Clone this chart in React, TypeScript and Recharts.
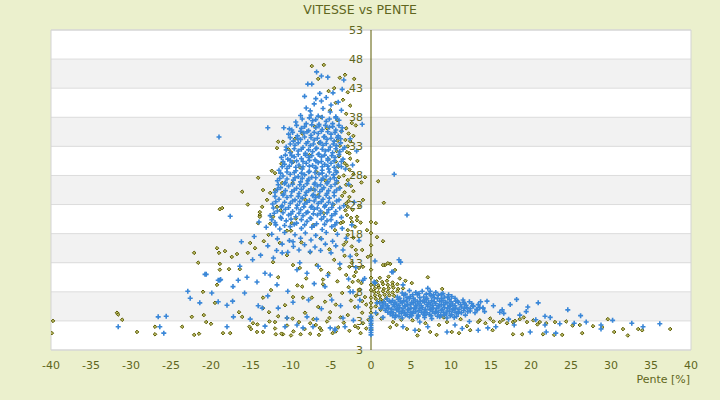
import { ScatterChart, Scatter, XAxis, YAxis, CartesianGrid, ReferenceLine, ReferenceArea } from "recharts";

const X_TICKS = [-40, -35, -30, -25, -20, -15, -10, -5, 0, 5, 10, 15, 20, 25, 30, 35, 40];
const Y_TICKS = [-2, 3, 8, 13, 18, 23, 28, 33, 38, 43, 48, 53];
const Y_TICK_LABELS = ["3", "3", "8", "13", "18", "23", "28", "33", "38", "43", "48", "53"];

type Pt = [number, number];

// blue (+) series
const BLUE_TOP: Pt[] = [
  [-6.8, 45.8], [-6.2, 45.1], [-7.9, 43.7], [-7.4, 43.7], [-5.4, 44.9], [-4.75, 42.2], [-3.4, 44.4], [-8.3, 41.6],
  [-6.4, 42.1], [-5.6, 41.4], [-4.1, 40.6], [-7.1, 40.3], [-8.1, 39.6], [-6, 39.5], [-5.1, 38.9], [-3.7, 39.2],
  [-7.5, 38.4], [-6.6, 38.2], [-4.4, 38.1], [-8.8, 38.3], [-1.1, 36.8], [-12.9, 36.2], [-10.9, 36.2], [-10.2, 36],
  [-19, 34.6], [-3.6, 42.8], [-6.9, 41.2], [-5.0, 40.1], [-7.6, 39.1], [-6.2, 40.8],
];

const BLUE_CORE: Pt[] = [
  [-9.4, 37.2], [-8.1, 36.9], [-7.3, 37.4], [-6.5, 36.8], [-5.6, 37.3], [-4.8, 36.9], [-4.0, 37.5],
  [-9.9, 35.8], [-8.7, 36.1], [-7.8, 35.7], [-6.9, 36.2], [-6.1, 35.9], [-5.2, 36.3], [-4.4, 35.8], [-3.6, 36.2],
  [-10.3, 35.1], [-9.2, 34.8], [-8.4, 35.3], [-7.5, 34.9], [-6.6, 35.2], [-5.8, 34.7], [-5.0, 35.1], [-4.1, 34.8],
  [-9.7, 33.9], [-8.8, 34.2], [-7.9, 33.8], [-7.1, 34.1], [-6.3, 33.7], [-5.5, 34.2], [-4.6, 33.9], [-3.8, 34.3],
  [-10.6, 32.9], [-9.5, 33.2], [-8.5, 32.8], [-7.6, 33.1], [-6.8, 32.7], [-6.0, 33.2], [-5.1, 32.9], [-4.3, 33.1], [-3.3, 32.8],
  [-10.1, 31.9], [-9.1, 32.2], [-8.2, 31.8], [-7.3, 32.1], [-6.5, 31.7], [-5.7, 32.2], [-4.8, 31.9], [-3.9, 32.1],
  [-11.2, 31.1], [-10.4, 30.8], [-9.6, 31.2], [-8.7, 30.9], [-7.8, 31.1], [-7.0, 30.7], [-6.2, 31.2], [-5.4, 30.9], [-4.5, 31.1], [-3.5, 30.8],
  [-10.8, 29.9], [-9.9, 30.2], [-9.0, 29.8], [-8.1, 30.1], [-7.3, 29.7], [-6.6, 30.2], [-5.8, 29.9], [-5.0, 30.1], [-4.1, 29.8],
  [-11.5, 28.9], [-10.5, 29.2], [-9.4, 28.8], [-8.6, 29.1], [-7.7, 28.7], [-6.9, 29.2], [-6.1, 28.9], [-5.3, 29.1], [-4.4, 28.8], [-3.2, 29.1],
  [-11.0, 27.9], [-10.1, 28.2], [-9.1, 27.8], [-8.3, 28.1], [-7.4, 27.7], [-6.5, 28.2], [-5.6, 27.9], [-4.7, 28.1],
  [-11.7, 27.1], [-10.7, 26.8], [-9.7, 27.2], [-8.8, 26.9], [-7.9, 27.1], [-7.0, 26.7], [-6.2, 27.2], [-5.4, 26.9], [-4.3, 27.1],
  [-11.3, 25.9], [-10.3, 26.2], [-9.3, 25.8], [-8.4, 26.1], [-7.5, 25.7], [-6.7, 26.2], [-5.9, 25.9], [-5.0, 26.1], [-3.9, 25.8],
  [-12.0, 25.1], [-10.9, 24.8], [-9.9, 25.2], [-9.0, 24.9], [-8.1, 25.1], [-7.2, 24.7], [-6.4, 25.2], [-5.5, 24.9], [-4.6, 25.1],
  [-11.5, 23.9], [-10.5, 24.2], [-9.5, 23.8], [-8.6, 24.1], [-7.7, 23.7], [-6.9, 24.2], [-6.0, 23.9], [-5.2, 24.1], [-4.0, 23.8],
  [-12.3, 23.1], [-11.1, 22.8], [-10.1, 23.2], [-9.2, 22.9], [-8.3, 23.1], [-7.4, 22.7], [-6.6, 23.2], [-5.7, 22.9], [-4.8, 23.1], [-3.4, 22.8],
  [-11.7, 21.9], [-10.7, 22.2], [-9.8, 21.8], [-8.8, 22.1], [-7.9, 21.7], [-7.1, 22.2], [-6.3, 21.9], [-5.3, 22.1], [-4.4, 21.8],
  [-12.6, 21.1], [-11.3, 20.8], [-10.3, 21.2], [-9.4, 20.9], [-8.5, 21.1], [-7.6, 20.7], [-6.7, 21.2], [-5.9, 20.9], [-4.9, 21.1], [-3.7, 20.8],
  [-12.0, 19.9], [-10.6, 20.2], [-9.3, 19.8], [-8.0, 20.1], [-6.8, 19.7], [-5.5, 20.2], [-4.3, 19.9],
  [-13.1, 19.1], [-11.4, 18.8], [-10.1, 19.2], [-8.7, 18.9], [-7.4, 19.1], [-6.1, 18.7], [-4.9, 19.2], [-3.6, 18.9],
  [-12.4, 17.9], [-10.8, 18.2], [-9.5, 17.8], [-8.2, 18.1], [-6.9, 17.7], [-5.6, 18.2], [-4.2, 17.9],
  [-11.7, 17.1], [-10.2, 16.8], [-8.8, 17.2], [-7.5, 16.9], [-6.2, 17.1], [-4.8, 16.7], [-3.1, 17.2],
  [-12.9, 15.9], [-11.1, 16.2], [-9.7, 15.8], [-8.3, 16.1], [-7.0, 15.7], [-5.7, 16.2], [-4.4, 15.9],
  [-11.8, 15.1], [-10.4, 14.8], [-9.0, 15.2], [-7.6, 14.9], [-6.3, 15.1], [-5.0, 14.7], [-3.5, 15.2],
];

const BLUE_CORE_FILL: Pt[] = [
  [-8.6, 37.7], [-7.7, 37.9], [-6.9, 37.6], [-6.1, 38.0], [-5.2, 37.7], [-4.4, 37.9],
  [-9.3, 36.6], [-8.3, 36.4], [-7.4, 36.7], [-6.5, 36.5], [-5.7, 36.6], [-4.8, 36.4], [-4.0, 36.6],
  [-9.8, 35.4], [-8.8, 35.6], [-8.0, 35.5], [-7.1, 35.4], [-6.2, 35.6], [-5.4, 35.5], [-4.5, 35.4], [-3.7, 35.6],
  [-10.1, 34.5], [-9.2, 34.4], [-8.3, 34.6], [-7.5, 34.5], [-6.7, 34.4], [-5.9, 34.6], [-5.0, 34.4], [-4.2, 34.5],
  [-10.1, 33.4], [-9.1, 33.6], [-8.1, 33.5], [-7.2, 33.4], [-6.4, 33.6], [-5.6, 33.5], [-4.7, 33.4], [-3.8, 33.6],
  [-10.6, 32.4], [-9.6, 32.6], [-8.7, 32.5], [-7.8, 32.4], [-6.9, 32.6], [-6.1, 32.5], [-5.3, 32.4], [-4.4, 32.6], [-3.5, 32.5],
  [-10.7, 31.5], [-9.9, 31.4], [-9.1, 31.6], [-8.2, 31.5], [-7.4, 31.4], [-6.6, 31.6], [-5.8, 31.5], [-4.9, 31.4], [-4.0, 31.6],
  [-11.0, 30.4], [-10.1, 30.6], [-9.3, 30.5], [-8.5, 30.4], [-7.7, 30.6], [-6.9, 30.5], [-6.2, 30.4], [-5.4, 30.6], [-4.6, 30.5], [-3.7, 30.4],
  [-11.1, 29.5], [-10.2, 29.6], [-9.4, 29.4], [-8.5, 29.5], [-7.7, 29.6], [-6.9, 29.4], [-6.1, 29.5], [-5.4, 29.6], [-4.6, 29.4], [-3.7, 29.5],
  [-11.3, 28.4], [-10.5, 28.6], [-9.6, 28.5], [-8.7, 28.4], [-7.8, 28.6], [-7.0, 28.5], [-6.1, 28.4], [-5.2, 28.6], [-4.3, 28.5],
  [-11.4, 27.5], [-10.5, 27.4], [-9.5, 27.6], [-8.6, 27.5], [-7.8, 27.4], [-6.9, 27.6], [-6.0, 27.5], [-5.1, 27.4], [-4.6, 27.6],
  [-11.6, 26.4], [-10.8, 26.6], [-9.8, 26.5], [-8.9, 26.4], [-8.0, 26.6], [-7.1, 26.5], [-6.3, 26.4], [-5.5, 26.6], [-4.5, 26.5],
  [-11.7, 25.6], [-10.7, 25.4], [-9.6, 25.5], [-8.7, 25.6], [-7.8, 25.4], [-7.0, 25.5], [-6.1, 25.6], [-5.3, 25.4], [-4.3, 25.5],
  [-12.0, 24.4], [-11.0, 24.6], [-10.0, 24.5], [-9.1, 24.4], [-8.2, 24.6], [-7.3, 24.5], [-6.5, 24.4], [-5.6, 24.6], [-4.6, 24.5],
  [-11.9, 23.5], [-10.8, 23.4], [-9.8, 23.6], [-8.9, 23.5], [-8.0, 23.4], [-7.1, 23.6], [-6.2, 23.5], [-5.3, 23.4], [-4.3, 23.6],
  [-12.2, 22.4], [-11.2, 22.6], [-10.3, 22.5], [-9.3, 22.4], [-8.4, 22.6], [-7.5, 22.5], [-6.7, 22.4], [-5.8, 22.6], [-4.9, 22.5], [-3.9, 22.4],
  [-12.1, 21.5], [-11.0, 21.6], [-10.0, 21.4], [-9.0, 21.5], [-8.1, 21.6], [-7.2, 21.4], [-6.3, 21.5], [-5.5, 21.6], [-4.5, 21.4],
  [-12.4, 20.4], [-11.2, 20.6], [-10.0, 20.5], [-8.7, 20.4], [-7.5, 20.6], [-6.2, 20.5], [-5.0, 20.4],
  [-11.9, 19.5], [-10.8, 19.4], [-9.6, 19.6], [-8.3, 19.5], [-7.1, 19.4], [-5.8, 19.6], [-4.5, 19.5],
];

const BLUE_LOW: Pt[] = [
  [-26.6, 3.7], [-25.6, 3.8], [-25.9, 0.9], [-26.4, 2], [-31.6, 2], [-22.9, 8.1], [-22.6, 6.9], [-21.4, 6.1],
  [-19.9, 7.8], [-20.75, 11], [-19.1, 10], [-18.8, 10.1], [-18, 5.7], [-17.25, 8.9], [-17.3, 6.4], [-16.6, 10],
  [-15.5, 10.5], [-14.25, 9.7], [-13.25, 11.2], [-12.6, 10.9], [-11.75, 9.2], [-9.75, 6.2], [-10.5, 3.5], [-8, 3.7],
  [-7.25, 2], [-5.75, 8.9], [-4.9, 6.6], [-3.5, 3.5], [-4.5, 1.4], [-2.25, 8], [-1.6, 5.4], [-1.4, 6.6],
  [-9.25, 11.8], [-8, 11.2], [-8.9, 13], [-11.1, 14.7], [-9.75, 16.6], [-19.1, 6.3], [-18, 2], [-17.2, 3.7],
  [-14.1, 5.6], [-13.6, 5.2], [-15.1, 3.3], [-13.25, 2.1], [-10.75, 2], [-9.25, 2.3], [-8.5, 1.8], [-5.1, 1.8],
  [-4.5, 1.6], [-3.25, 2], [-2.6, 8], [-17.6, 21], [-14, 20], [-20.6, 11], [-18.9, 10], [-16.4, 12.4],
  [-14.8, 13.5], [-12.2, 13.8], [-6.6, 12.4], [-5.4, 10.8], [-3.9, 12.8], [-2.8, 10.2], [-7.1, 9.4], [-10.4, 8.1],
  [-12.9, 7.3], [-15.8, 7.8], [-6.2, 5.1], [-7.8, 6.6], [-11.6, 5.2], [-2.2, 3.1], [-6.8, 3.3], [-3.8, 5.6],
  [-1.9, 12.2], [-0.8, 10.3], [-16.2, 16.6], [-14.6, 17.5], [-13.8, 14.3], [-2.6, 14.1], [-1.5, 16.8], [-2.4, 19.5],
  [-2.1, 23.4], [-2.8, 26.5], [-2.3, 29.8], [-2.6, 34.3], [-1.8, 32.2],
];

const BLUE_AXIS: Pt[] = [
  [0, 0.6], [0, 1.0], [0, 1.4], [0, 1.8], [0, 2.2], [0, 2.6], [0, 3.0], [0, 3.4], [0, 3.8],
];

const BLUE_NEAR: Pt[] = [
  [2.9, 28.2], [4.5, 21.2], [0.5, 13.3], [3.5, 13.5], [3.7, 13.1], [2.6, 11.4], [0.4, 9.7], [-1, 10],
  [0.5, 9.5], [4, 9.2], [2.75, 11.4], [7.1, 8.6], [7.4, 8.1], [9, 7.7], [0.75, 6.1], [1.2, 5.2],
  [0.6, 4.4], [1.5, 3.6],
];

const BLUE_BLOB: Pt[] = [
  [3.9, 7.8], [4.8, 8.2], [5.6, 7.9], [6.4, 8.1], [7.3, 7.7], [8.1, 7.9],
  [3.3, 7.1], [4.1, 7.4], [4.9, 7.2], [5.8, 7.5], [6.6, 7.1], [7.5, 7.3], [8.4, 7.4], [9.2, 7.1], [10.1, 7.2],
  [2.0, 6.8], [2.7, 6.5], [3.4, 6.7], [4.1, 6.5], [4.8, 6.8], [5.5, 6.6], [6.2, 6.4], [6.9, 6.7], [7.6, 6.5],
  [8.3, 6.8], [9.0, 6.5], [9.8, 6.7], [10.6, 6.4], [11.5, 6.6],
  [1.1, 6.1], [1.8, 5.9], [2.5, 6.2], [3.2, 5.9], [3.9, 6.1], [4.6, 5.8], [5.3, 6.1], [6.0, 5.9], [6.7, 6.2],
  [7.4, 5.9], [8.1, 6.0], [8.8, 5.8], [9.5, 6.1], [10.2, 5.9], [10.9, 6.2], [11.7, 5.9], [12.6, 6.0],
  [1.5, 5.4], [2.2, 5.2], [2.9, 5.5], [3.6, 5.3], [4.3, 5.5], [5.0, 5.2], [5.7, 5.4], [6.4, 5.3], [7.1, 5.5],
  [7.8, 5.2], [8.5, 5.4], [9.2, 5.3], [9.9, 5.5], [10.6, 5.2], [11.3, 5.4], [12.0, 5.3], [12.8, 5.5], [13.6, 5.3],
  [1.8, 4.8], [2.5, 4.6], [3.2, 4.9], [3.9, 4.7], [4.6, 4.9], [5.3, 4.6], [6.0, 4.8], [6.7, 4.7], [7.4, 4.9],
  [8.1, 4.6], [8.8, 4.8], [9.5, 4.7], [10.2, 4.9], [10.9, 4.6], [11.6, 4.8], [12.4, 4.7], [13.3, 4.9], [14.2, 4.6],
  [2.4, 4.2], [3.1, 4.0], [3.8, 4.3], [4.5, 4.1], [5.2, 4.3], [5.9, 4.0], [6.6, 4.2], [7.3, 4.1], [8.0, 4.3],
  [8.7, 4.0], [9.4, 4.2], [10.1, 4.1], [10.9, 4.3], [11.8, 4.0],
  [3.0, 3.6], [3.9, 3.5], [4.8, 3.7], [5.8, 3.5], [6.7, 3.6], [7.6, 3.4], [8.6, 3.7], [9.5, 3.5], [10.4, 3.6],
];

const BLUE_BLOB_FILL: Pt[] = [
  [4.3, 7.6], [5.2, 7.5], [6.0, 7.7], [6.9, 7.6], [7.8, 7.5], [8.8, 7.6], [9.7, 7.5],
  [3.6, 6.9], [4.5, 7.0], [5.3, 6.9], [6.1, 7.0], [7.0, 6.9], [7.9, 7.0], [8.8, 6.9], [9.6, 7.0], [10.5, 6.9],
  [1.6, 6.3], [2.3, 6.4], [3.0, 6.2], [3.7, 6.3], [4.4, 6.4], [5.1, 6.2], [5.8, 6.3], [6.5, 6.4], [7.2, 6.2],
  [7.9, 6.3], [8.6, 6.4], [9.3, 6.2], [10.0, 6.3], [10.8, 6.4], [11.6, 6.2], [12.3, 6.3],
  [1.4, 5.7], [2.1, 5.6], [2.8, 5.8], [3.5, 5.7], [4.2, 5.6], [4.9, 5.8], [5.6, 5.7], [6.3, 5.6], [7.0, 5.8],
  [7.7, 5.7], [8.4, 5.6], [9.1, 5.8], [9.8, 5.7], [10.5, 5.6], [11.2, 5.8], [11.9, 5.7], [12.7, 5.6], [13.4, 5.8],
  [1.9, 5.1], [2.6, 5.0], [3.3, 5.2], [4.0, 5.1], [4.7, 5.0], [5.4, 5.2], [6.1, 5.1], [6.8, 5.0], [7.5, 5.2],
  [8.2, 5.1], [8.9, 5.0], [9.6, 5.2], [10.3, 5.1], [11.0, 5.0], [11.7, 5.2], [12.4, 5.1], [13.2, 5.0], [14.0, 5.2],
  [2.1, 4.5], [2.8, 4.4], [3.5, 4.6], [4.2, 4.5], [4.9, 4.4], [5.6, 4.6], [6.3, 4.5], [7.0, 4.4], [7.7, 4.6],
  [8.4, 4.5], [9.1, 4.4], [9.8, 4.6], [10.5, 4.5], [11.3, 4.4], [12.1, 4.6], [13.0, 4.4],
  [2.7, 3.9], [3.5, 3.8], [4.3, 4.0], [5.1, 3.9], [5.9, 3.8], [6.7, 4.0], [7.5, 3.9], [8.3, 3.8], [9.1, 4.0],
  [9.9, 3.9], [10.7, 3.8],
];

const BLUE_TAIL: Pt[] = [
  [14, 5.2], [14.5, 6.4], [15.3, 5.6], [16.4, 4.9], [16.6, 4.3], [17.4, 5.8], [18.6, 4], [19.6, 5.4],
  [19.9, 1.1], [21.75, 3.8], [21.9, 1.1], [23.1, 0.9], [23.6, 2.5], [25.4, 2.6], [26.9, 2.8], [28.75, 2.3],
  [28.75, 1.6], [34, 2], [36.1, 2.5], [17.9, 2.3], [21.75, 2.3], [16.1, 4.5], [20.6, 3.2], [22.4, 3.6],
  [19.4, 4.6], [13.7, 6.3], [15.6, 2.0], [17.2, 3.3], [18.2, 6.7], [20.9, 6.1], [24.6, 4.9], [26.2, 3.9],
  [13.4, 1.4], [14.6, 1.8], [9.5, 1.1], [10.5, 2.3], [4, 2], [5.5, 1.4], [7.1, 2], [6.1, 2.8],
  [12.3, 2.9], [11.4, 1.7], [30.2, 3.1], [32.6, 2.6],
];

// olive (diamond) series
const OLIVE_FAR: Pt[] = [
  [-39.75, 3], [-39.9, 0.9], [-31.75, 4.4], [-31.6, 4.1], [-31.1, 3.2], [-29.25, 1.1], [-27, 2], [-27, 0.7],
  [-23.6, 2], [-22.4, 3.7], [-22.1, 0.6], [-21.5, 0.8], [-20.9, 4], [-21, 8], [-22.1, 14.7], [-21.6, 13],
  [-18.9, 22.2], [-18.6, 22.4], [-19.25, 15.5], [-19, 14.7], [-18.9, 12.8], [-18.25, 15], [-17.4, 14], [-16.75, 14.5],
  [-16.1, 25.2], [-15.4, 23], [-15.4, 14.7], [-13.5, 25.5], [-15.1, 16.4], [-14.5, 15.5], [-13.9, 21.7], [-13.4, 16.7],
  [-19.25, 9.2], [-18.9, 11.8], [-17.75, 11.9], [-16.4, 11.9], [-19.5, 6.1], [-20.6, 2.8], [-20, 2.5], [-18.5, 0.9],
  [-16.5, 4.5], [-16.1, 3.7], [-17.6, 0.9], [-14.75, 2.6], [-14.25, 1.1], [-15.2, 2], [-13.5, 5.2], [-12.75, 4.5],
  [-13.5, 7], [-12.5, 8.3], [-11.6, 10.5], [-12, 2.8], [-11.9, 0.7], [-11, 0.7], [-10.5, 3.5], [-10.75, 5.7],
  [-9.75, 7.1], [-8.6, 8.9], [-8.5, 7], [-8.25, 4.4], [-7.6, 2.6], [-6.4, 1.8], [-5.75, 6.3], [-5.1, 4.5],
  [-6.25, 11.8], [-6, 10.1], [-9.75, 12.6], [-8.9, 12.1], [-10.5, 14.3], [-12.25, 13.1], [-11.4, 16.4], [-10.5, 18.5],
  [-9.9, 19.8], [-11.75, 22.6], [-12.25, 20.9], [-12.6, 19.7], [-11.1, 25], [-13.9, 21.2], [-12.6, 25], [-14.1, 27.6],
  [-11.75, 32.7], [-11.6, 33.8], [-11, 33.8], [-10, 32], [-9.75, 30.3], [-12, 28.4], [-12, 25.5], [-11.1, 26.7],
  [-13.6, 22.6], [-13, 23.8], [-13.9, 20.9], [-14.1, 19.8],
];

const OLIVE_CORE: Pt[] = [
  [-7.4, 46.8], [-5.9, 47], [-6.6, 44.6], [-3.25, 45.3], [-2.1, 44.6], [-2.9, 42.3], [-3.9, 44.8], [-4.6, 43], [-5.3, 42.5],
  [-3.5, 41], [-4.4, 40.5], [-2.6, 40], [-5.1, 39.2], [-3.1, 38.6], [-6.2, 38], [-4.2, 37.5], [-2.4, 37], [-7, 36.4],
  [-5.5, 36.1], [-3.7, 35.6], [-8.6, 35.2], [-2.2, 34.8],
  [-4.2, 34], [-3.9, 33.1], [-4.3, 32.2], [-4.0, 31.3], [-4.4, 30.4], [-4.1, 29.5], [-4.3, 28.6], [-4.0, 27.7],
  [-4.2, 26.8], [-3.9, 25.9], [-6.5, 33.6], [-7.7, 31.5], [-5.3, 30.8], [-2.7, 31.8], [-3.0, 29.7], [-2.2, 28.2],
  [-6.8, 28.6], [-8.9, 29.4], [-5.7, 27.1], [-3.1, 26.4], [-9.8, 26.7], [-7.2, 25.6], [-1.7, 30.5], [-2.6, 33.9],
  [-10.3, 32.5], [-11.2, 30], [-12.4, 28.8], [-9.5, 34.3],
  [-3.6, 24.5], [-2.8, 23.6], [-4.7, 23], [-3.2, 22], [-5.9, 21.5], [-2.5, 20.7], [-3.8, 19.8], [-7.2, 19.5],
  [-4.5, 18.6], [-2.9, 17.8], [-6.3, 17.2], [-8.7, 16.5], [-3.4, 16.1], [-5.2, 15.3], [-1.9, 15.2], [-10, 18.5],
  [-11.3, 22], [-8.2, 23.8], [-6.6, 24.6], [-1.5, 22.8], [-2.2, 25.3], [-9.4, 20.6], [-12.8, 17.8], [-7.6, 14.8],
  [-3.3, 14.2], [-4.6, 13.5], [-2.4, 13], [-6.8, 12.6], [-3.9, 12], [-5.3, 11.2], [-2.1, 10.7], [-8.1, 10.3],
  [-4.2, 9.8], [-6.0, 9.3], [-2.8, 8.8], [-3.6, 7.8], [-5.1, 7.4], [-7.4, 7], [-2.5, 6.5], [-4.4, 5.8],
  [-6.6, 5.4], [-1.5, 12.1], [-9.2, 9.1], [-1.2, 9.5],
];

const OLIVE_EDGE: Pt[] = [
  [-3.1, 36.1], [-2.8, 35.2], [-3.2, 34.1], [-2.9, 33.0], [-3.0, 32.0], [-2.6, 30.9], [-3.3, 30.1], [-2.7, 29.0],
  [-3.4, 28.0], [-2.9, 27.2], [-2.5, 26.2], [-3.3, 25.1], [-2.7, 24.3], [-3.1, 23.2], [-2.3, 22.1], [-3.0, 21.2],
  [-2.0, 19.2], [-2.9, 18.6], [-2.2, 17.3], [-3.1, 16.6], [-2.4, 15.8], [-1.8, 14.4], [-2.7, 12.3], [-1.9, 11.4],
  [-2.3, 9.7], [-1.4, 8.4], [-1.9, 7.3], [-1.1, 6.4], [-3.1, 10.9], [-1.3, 19.9], [-1.2, 26.8], [-1.9, 36.6],
];

const OLIVE_BOTTOM: Pt[] = [
  [-15, 1.6], [-14.2, 2.4], [-13.5, 1.1], [-12.7, 2.9], [-12, 1.7], [-11.2, 0.8], [-10.5, 2.2], [-9.7, 1.2],
  [-9.0, 2.8], [-8.3, 1.6], [-7.6, 0.8], [-6.9, 2.3], [-6.2, 1.4], [-5.5, 2.9], [-4.8, 0.9], [-4.1, 1.9],
  [-3.4, 2.7], [-2.7, 1.3], [-2.0, 2.1], [-1.3, 0.9], [-0.6, 1.7], [-7.2, 3.3], [-5.2, 3.5], [-3.8, 3.6],
  [-9.8, 3.4], [-11.6, 3.8], [-2.9, 4.0], [-4.4, 1.2], [-6.5, 0.6], [-8.8, 0.7], [-10, 0.5],
];

const OLIVE_NEAR_AXIS: Pt[] = [
  [-3.5, 20], [-1, 23.8], [-1.75, 20.3], [-1.1, 15.2], [-1, 12.3], [-1.6, 9.9], [-0.75, 7.1], [-2, 5.4],
  [-1.1, 4.4], [-1.6, 1.8], [-1, 2.6], [-0.75, 27.7], [-1.75, 20.9], [-2.9, 22.6], [-2.4, 20], [-0.5, 18.6],
  [-0.4, 14], [-0.6, 5.8], [-0.3, 3.2],
  [0, 1.5], [0, 2.5], [0, 3.5], [0, 4.4], [0, 5.3], [0, 6.1], [0, 7.0], [0, 8.3], [0, 9.2], [0, 10.4],
  [0, 11.8], [0, 14.3], [0, 16], [0, 18.1], [0, 20],
  [0.9, 27], [1.6, 23.3], [0.6, 19.8], [0.75, 17.4], [1.5, 16.7], [1.75, 12.6], [2.4, 12.8], [3, 11.75],
  [1.5, 12.6], [2.1, 12.9], [7.1, 10.5], [5.1, 9.5], [8.9, 8.5], [4.3, 9.9], [3.6, 10.3], [2.2, 10.6], [1.1, 10.4],
];

const OLIVE_CLUSTER: Pt[] = [
  [0.7, 9.8], [1.4, 9.7], [2.0, 9.9], [2.7, 9.6],
  [0.4, 9.2], [0.9, 9.1], [1.5, 9.3], [2.1, 9.2], [2.7, 9.1], [3.3, 9.3],
  [0.5, 8.6], [1.0, 8.7], [1.6, 8.5], [2.2, 8.6], [2.8, 8.7], [3.4, 8.5], [4.0, 8.6],
  [0.4, 8.0], [0.9, 7.9], [1.5, 8.1], [2.1, 8.0], [2.7, 7.9], [3.3, 8.1],
  [0.5, 7.4], [1.1, 7.3], [1.7, 7.5], [2.3, 7.4], [2.9, 7.3],
  [0.6, 6.8], [1.2, 6.7], [1.9, 6.9], [0.8, 6.2], [1.5, 6.4], [0.6, 5.5], [1.2, 4.9], [0.7, 4.2], [1.3, 3.4],
];

const OLIVE_RIGHT: Pt[] = [
  [2.75, 2.8], [3.2, 2.3], [4.5, 1.6], [5.2, 3.1], [6, 1.4], [7.4, 1.1], [8.5, 2.3], [9.5, 2.8],
  [10.1, 1.1], [12, 2.1], [12.4, 1.4], [13.4, 2.8], [14.3, 2.6], [15.3, 2.9], [15.2, 1.4], [16.1, 2.8],
  [17, 2.6], [17.75, 2.8], [18.6, 3.3], [19.5, 2.8], [20.3, 3.1], [21.1, 2.8], [21.9, 2.6], [23, 2.8],
  [22.9, 0.6], [13.6, 3.1], [14.9, 3.4], [16.5, 3.2], [18, 3.0], [19.1, 3.6], [20.8, 2.4], [17.75, 0.7],
  [18.9, 0.7], [21.5, 0.7], [23.9, 0.6], [26.1, 2.3], [26.4, 0.9], [27.75, 2.1], [28.9, 1.9], [29.6, 3.3],
  [30.4, 1.1], [31.5, 1.6], [32.1, 0.5], [33.4, 1.6], [33.9, 1.4], [37.4, 1.6], [11.2, 3.3], [6.8, 2.6],
  [3.8, 3.2], [2.4, 1.9], [8.2, 0.6], [9.1, 3.6], [24.4, 2.9], [25.2, 2.2], [11, 0.9], [5.8, 0.5],
];

const BLUE = [
  ...BLUE_TOP, ...BLUE_CORE, ...BLUE_CORE_FILL, ...BLUE_LOW, ...BLUE_AXIS,
  ...BLUE_NEAR, ...BLUE_BLOB, ...BLUE_BLOB_FILL, ...BLUE_TAIL,
].map(([x, y]) => ({ x, y }));
const OLIVE = [
  ...OLIVE_FAR, ...OLIVE_CORE, ...OLIVE_EDGE, ...OLIVE_BOTTOM, ...OLIVE_NEAR_AXIS, ...OLIVE_CLUSTER, ...OLIVE_RIGHT,
].map(([x, y]) => ({ x, y }));

const W = 720;
const H = 400;
const MARGIN = { top: 30, right: 29, bottom: 0, left: 50 };
const Y_AXIS_W = 1;
const X_MIN = -40;
const X_MAX = 40;
const PLOT_LEFT = MARGIN.left + Y_AXIS_W;
const PLOT_W = W - PLOT_LEFT - MARGIN.right;
const ZERO_X = PLOT_LEFT + (PLOT_W * (0 - X_MIN)) / (X_MAX - X_MIN);

const TEXT = "#5f6620";
const FONT = "'DejaVu Sans', Verdana, sans-serif";

const PlusShape = (p: any) => (
  <path d={`M${p.cx - 2.5},${p.cy}h5M${p.cx},${p.cy - 2.5}v5`} stroke="#3a87d8" strokeWidth={1.6} fill="none" />
);

const DiamondShape = (p: any) => (
  <path d={`M${p.cx},${p.cy - 1.8}l1.8,1.8l-1.8,1.8l-1.8,-1.8z`} fill="#b9b964" stroke="#5a5a00" strokeWidth={1} />
);

const YTick = (p: any) => {
  const i = Y_TICKS.indexOf(p.payload.value);
  return (
    <text x={ZERO_X - 8} y={p.y} dy={4} textAnchor="end" fontSize={11} fill={TEXT} fontFamily={FONT}>
      {i >= 0 ? Y_TICK_LABELS[i] : p.payload.value}
    </text>
  );
};

export default function App() {
  return (
    <div style={{ position: "absolute", left: 0, top: 0, width: W, height: H, background: "#ebf0cd", fontFamily: FONT }}>
      <div style={{ position: "absolute", top: 2, left: 0, width: W, textAlign: "center", fontSize: 12.5, lineHeight: "16px", color: TEXT }}>
        VITESSE vs PENTE
      </div>
      <ScatterChart width={W} height={H} margin={MARGIN}>
        <CartesianGrid horizontal vertical={false} stroke="#dcdcdc" horizontalFill={["#ffffff", "#f2f2f2"]} />
        <ReferenceArea x1={X_MIN} x2={X_MAX} y1={-2} y2={53} fill="none" stroke="#d3d3d3" />
        <XAxis
          type="number"
          dataKey="x"
          domain={[X_MIN, X_MAX]}
          ticks={X_TICKS}
          interval={0}
          allowDataOverflow
          axisLine={false}
          tickLine={false}
          tickMargin={5}
          height={50}
          tick={{ fontSize: 11, fill: TEXT, fontFamily: FONT }}
        />
        <YAxis
          type="number"
          dataKey="y"
          domain={[-2, 53]}
          ticks={Y_TICKS}
          interval={0}
          allowDataOverflow
          width={Y_AXIS_W}
          axisLine={false}
          tickLine={false}
          tick={YTick}
        />
        <ReferenceLine x={0} stroke="#5a5a00" strokeWidth={1} />
        <Scatter data={OLIVE} shape={DiamondShape} isAnimationActive={false} />
        <Scatter data={BLUE} shape={PlusShape} isAnimationActive={false} />
      </ScatterChart>
      <div style={{ position: "absolute", top: 373, right: 30, fontSize: 11, lineHeight: "14px", color: TEXT }}>Pente [%]</div>
    </div>
  );
}
